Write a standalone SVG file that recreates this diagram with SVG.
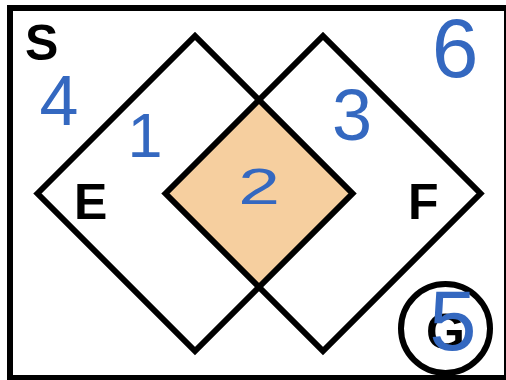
<svg xmlns="http://www.w3.org/2000/svg" width="506" height="380" viewBox="0 0 506 380">
<style>
.ln{fill:none;stroke:#000;stroke-width:6;stroke-linejoin:miter}
.lbl{font-family:"Liberation Sans",Arial,sans-serif;font-weight:bold;fill:#000}
.num{font-family:"Liberation Sans",Arial,sans-serif;font-weight:normal;fill:#3468c0;text-anchor:middle}
</style>
<rect width="506" height="380" fill="#fff"/>
<g id="S">
<rect class="ln" x="10" y="8" width="497" height="370"/>
<text class="lbl" x="25" y="60" font-size="50">S</text>
</g>
<g id="E_and_F">
<polygon id="EF" points="165.5,193.5 259,100 352.5,193.5 259,287" fill="#f6cf9f"/>
</g>
<g id="E">
<polygon class="ln" points="37.5,193.5 195,36 352.5,193.5 195,351"/>
<text class="lbl" x="74" y="219" font-size="50">E</text>
</g>
<g id="F">
<polygon class="ln" points="165.5,193.5 323,36 480.5,193.5 323,351"/>
<text class="lbl" x="408" y="219" font-size="50">F</text>
</g>
<g id="G">
<circle class="ln" cx="445.5" cy="328.5" r="44.5"/>
<text class="lbl" x="426" y="349" font-size="50">G</text>
</g>
<g id="numbers">
<text class="num" x="59" y="125" font-size="70">4</text>
<text class="num" x="145" y="157" font-size="63">1</text>
<text class="num" x="352" y="140" font-size="72">3</text>
<text class="num" x="455" y="77" font-size="84">6</text>
<text class="num" transform="translate(259,204) scale(1.5,1)" x="0" y="0" font-size="50">2</text>
<text class="num" x="453" y="350" font-size="85">5</text>
</g>
</svg>
